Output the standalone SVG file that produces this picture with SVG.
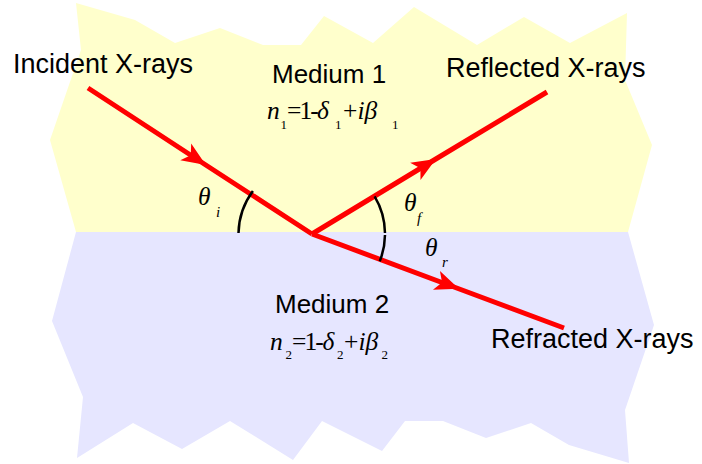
<svg xmlns="http://www.w3.org/2000/svg" width="702" height="464" viewBox="0 0 702 464">
<style>
.lbl{font-family:"Liberation Sans",Arial,sans-serif;fill:#000}
.mth{font-family:"Liberation Serif","Times New Roman",serif;fill:#000}
.it{font-style:italic}
.ray{fill:none;stroke:#FF0000;stroke-width:5;stroke-linecap:butt}
.arc{fill:none;stroke:#000;stroke-width:2.5}
</style>
<defs>
<marker id="ah" markerUnits="userSpaceOnUse" markerWidth="30" markerHeight="24" viewBox="-27 -12 30 24" refX="0" refY="0" orient="auto" overflow="visible">
<path d="M1,0 L-23,-10 L-17,0 L-23,10 Z" fill="#FF0000"/>
</marker>
</defs>
<rect width="702" height="464" fill="#FFFFFF"/>
<g id="medium1">
<polygon fill="#FFFFCC" points="76,3 135,20 175,43 220,28 263,45 301,45 324,16 373,43 414,7 477,45 524,17 570,43 627,13 625,80 652,145 628,232 76,232 50,140 81,50"/>
<text class="lbl" x="272" y="83" font-size="26">Medium 1</text>
<text class="mth" font-size="25.5"><tspan class="it" x="267" y="119">n</tspan><tspan x="280.5" y="129" font-size="13">1</tspan><tspan x="287" y="119" letter-spacing="-2">=1-</tspan><tspan class="it" x="317" y="119">δ</tspan><tspan x="335" y="129" font-size="13">1</tspan><tspan x="343" y="119">+</tspan><tspan class="it" x="357.5" y="119">iβ</tspan><tspan x="392" y="129" font-size="13">1</tspan></text>
</g>
<g id="medium2">
<polygon fill="#E6E6FF" points="76,232 628,232 654,325 625,410 629,463 569,445 531,423 486,438 443,421 405,421 382,451 322,421 293,460 230,421 182,449 133,423 77,458 83,397 52,321"/>
<text class="lbl" x="275" y="313" font-size="26">Medium 2</text>
<text class="mth" font-size="25.5"><tspan class="it" x="270" y="350">n</tspan><tspan x="285.5" y="359" font-size="13">2</tspan><tspan x="292" y="350" letter-spacing="-2">=1-</tspan><tspan class="it" x="322.5" y="350">δ</tspan><tspan x="337" y="359" font-size="13">2</tspan><tspan x="344" y="350">+</tspan><tspan class="it" x="358.5" y="350">iβ</tspan><tspan x="381.5" y="359" font-size="13">2</tspan></text>
</g>
<g id="connectors">
<path id="incident" class="ray" d="M88,88 L205,164.5 L312,234" marker-mid="url(#ah)"/>
<path id="reflected" class="ray" d="M312,234 L435,159.5 L547,92" marker-mid="url(#ah)"/>
<path id="refracted" class="ray" d="M312,234 L458,288.5 L564,328" marker-mid="url(#ah)"/>
</g>
<g id="angle-i">
<path class="arc" d="M238.5,233 A73,73 0 0 1 252.9,191.1"/>
<text class="mth it" x="198" y="205" font-size="25.5">θ</text>
<text class="mth it" x="216" y="217" font-size="15">i</text>
</g>
<g id="angle-f">
<path class="arc" d="M385,233 A73,73 0 0 0 374.6,196.4"/>
<text class="mth it" x="404" y="211" font-size="25.5">θ</text>
<text class="mth it" x="417" y="223" font-size="15">f</text>
</g>
<g id="angle-r">
<path class="arc" d="M385,235 A73,73 0 0 1 379.7,261.3"/>
<text class="mth it" x="425" y="256" font-size="25.5">θ</text>
<text class="mth it" x="442" y="267" font-size="15">r</text>
</g>
<g id="label-incident"><text class="lbl" x="13" y="73" font-size="27">Incident X-rays</text></g>
<g id="label-reflected"><text class="lbl" x="446" y="77" font-size="27">Reflected X-rays</text></g>
<g id="label-refracted"><text class="lbl" x="491" y="348" font-size="27">Refracted X-rays</text></g>
</svg>
